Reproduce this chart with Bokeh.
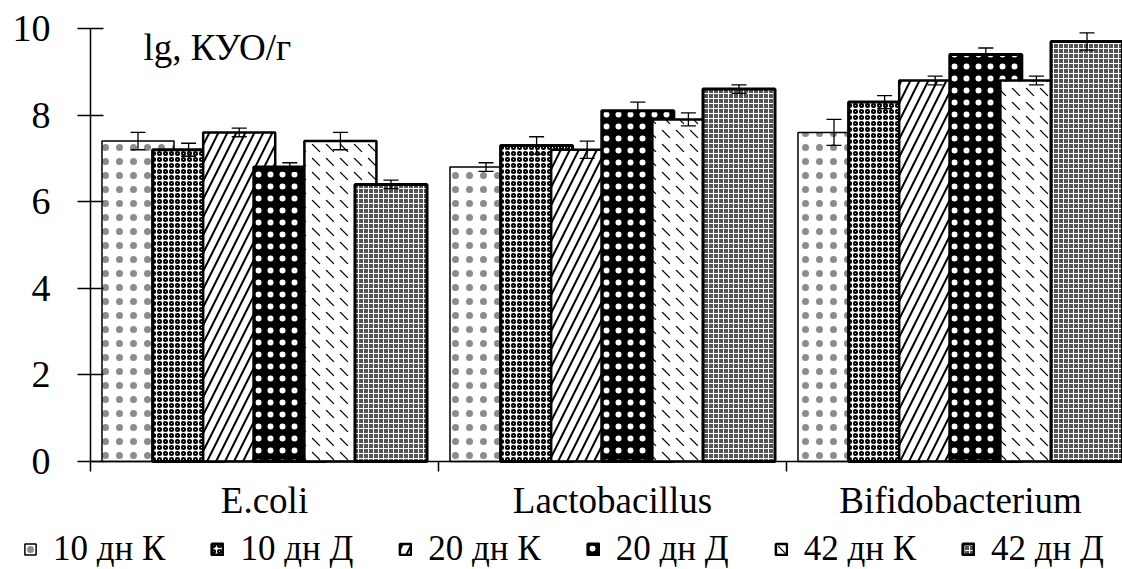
from bokeh.plotting import figure
from bokeh.models import (ColumnDataSource, Whisker, TeeHead, FixedTicker,
                          Legend, LegendItem, Label)
from bokeh.embed import file_html
from bokeh.resources import INLINE

# ---- data ----
categories = ["E.coli", "Lactobacillus", "Bifidobacterium"]
series = ["10 дн К", "10 дн Д", "20 дн К", "20 дн Д", "42 дн К", "42 дн Д"]
v_10K = [7.4, 6.8, 7.6]
v_10D = [7.2, 7.3, 8.3]
v_20K = [7.6, 7.2, 8.8]
v_20D = [6.8, 8.1, 9.4]
v_42K = [7.4, 7.9, 8.8]
v_42D = [6.4, 8.6, 9.7]
e_10K = [0.2, 0.1, 0.3]
e_10D = [0.15, 0.2, 0.15]
e_20K = [0.1, 0.2, 0.1]
e_20D = [0.1, 0.2, 0.15]
e_42K = [0.2, 0.15, 0.1]
e_42D = [0.1, 0.1, 0.2]
y_ticks = [0, 2, 4, 6, 8, 10]
y_unit = "lg, КУО/г"

values = [v_10K, v_10D, v_20K, v_20D, v_42K, v_42D]
errors = [e_10K, e_10D, e_20K, e_20D, e_42K, e_42D]

# ---- styles ----
styles = [
    dict(fill_color="white", hatch_pattern="dot", hatch_color="black", hatch_scale=14, hatch_alpha=0.45, line_width=1.5),
    dict(fill_color="white", hatch_pattern="ring", hatch_color="black", hatch_scale=6, hatch_weight=2, line_width=3),
    dict(fill_color="white", hatch_pattern="right_diagonal_line", hatch_color="black", hatch_scale=18, hatch_weight=2, line_width=2.5),
    dict(fill_color="black", hatch_pattern="dot", hatch_color="white", hatch_scale=12, hatch_weight=4, line_width=3),
    dict(fill_color="white", hatch_pattern="left_diagonal_dash", hatch_color="black", hatch_scale=14, hatch_weight=1.2, line_width=2.5),
    dict(fill_color="#555555", hatch_pattern="cross", hatch_color="white", hatch_scale=5, hatch_weight=1, line_width=3),
]

FONT = "Liberation Serif"
W, H = 1122, 569
px_x = 348.0          # pixels per category
px_y = 43.3           # pixels per y unit
left_px, bottom_px = 90, 108
step = 0.1454
bar_w = 0.207

p = figure(width=W, height=H,
           x_range=(-left_px / px_x, (W - left_px) / px_x),
           y_range=(-bottom_px / px_y, (H - bottom_px) / px_y),
           output_backend="svg", toolbar_location=None,
           min_border_left=0, min_border_right=0, min_border_top=0, min_border_bottom=0,
           outline_line_color=None, background_fill_color="white", border_fill_color="white")
p.xgrid.visible = False
p.ygrid.visible = False

items = []
whisk_sources = []
for i, (name, vals, errs, st) in enumerate(zip(series, values, errors, styles)):
    xs = [c + 0.5 + (i - 2.5) * step for c in range(len(categories))]
    src = ColumnDataSource(dict(x=xs, top=vals,
                                upper=[v + e for v, e in zip(vals, errs)],
                                lower=[v - e for v, e in zip(vals, errs)]))
    r = p.vbar(x="x", top="top", bottom=0, width=bar_w, source=src, line_color="black", **st)
    items.append(LegendItem(label=name, renderers=[r]))
    whisk_sources.append(src)

for src in whisk_sources:
    w = Whisker(source=src, base="x", upper="upper", lower="lower",
                line_color="black", line_width=1.3, level="overlay",
                upper_head=TeeHead(size=15, line_width=1.3, line_color="black"),
                lower_head=TeeHead(size=15, line_width=1.3, line_color="black"))
    p.add_layout(w)

# y axis (drawn at x = 0)
ya = p.yaxis[0]
ya.fixed_location = 0
ya.bounds = (y_ticks[0], y_ticks[-1])
ya.ticker = FixedTicker(ticks=y_ticks)
ya.major_label_text_font = FONT
ya.major_label_text_font_size = "38px"
ya.major_label_text_color = "black"
ya.major_tick_in = 13
ya.major_tick_out = 13
ya.major_label_standoff = 27
ya.minor_tick_line_color = None
ya.axis_line_width = 1.5
ya.major_tick_line_width = 1.5
ya.axis_line_color = "black"
ya.major_tick_line_color = "black"

# x axis (drawn at y = 0)
xa = p.xaxis[0]
xa.fixed_location = 0
xa.bounds = (0, len(categories))
xa.ticker = FixedTicker(ticks=[c + 0.5 for c in range(len(categories))],
                        minor_ticks=list(range(len(categories) + 1)))
xa.major_label_overrides = {c + 0.5: name for c, name in enumerate(categories)}
xa.major_label_text_font = FONT
xa.major_label_text_font_size = "37px"
xa.major_label_text_color = "black"
xa.major_tick_line_color = None
xa.major_tick_out = 0
xa.major_tick_in = 0
xa.major_label_standoff = 8
xa.minor_tick_in = 0
xa.minor_tick_out = 10
xa.minor_tick_line_color = "black"
xa.minor_tick_line_width = 1.5
xa.axis_line_width = 1.5
xa.axis_line_color = "black"

p.add_layout(Label(x=0.152, y=9.55, text=y_unit, text_font=FONT, text_font_size="37px",
                   text_color="black", text_baseline="alphabetic"))

legend = Legend(items=items, orientation="horizontal", location=(23, 0),
                label_text_font=FONT, label_text_font_size="35px", label_text_color="black",
                glyph_width=14, glyph_height=14, label_standoff=16, spacing=45,
                border_line_color=None, background_fill_alpha=0, padding=0, margin=0)
p.add_layout(legend, "center")

open("out.html", "w").write(file_html(p, INLINE))
